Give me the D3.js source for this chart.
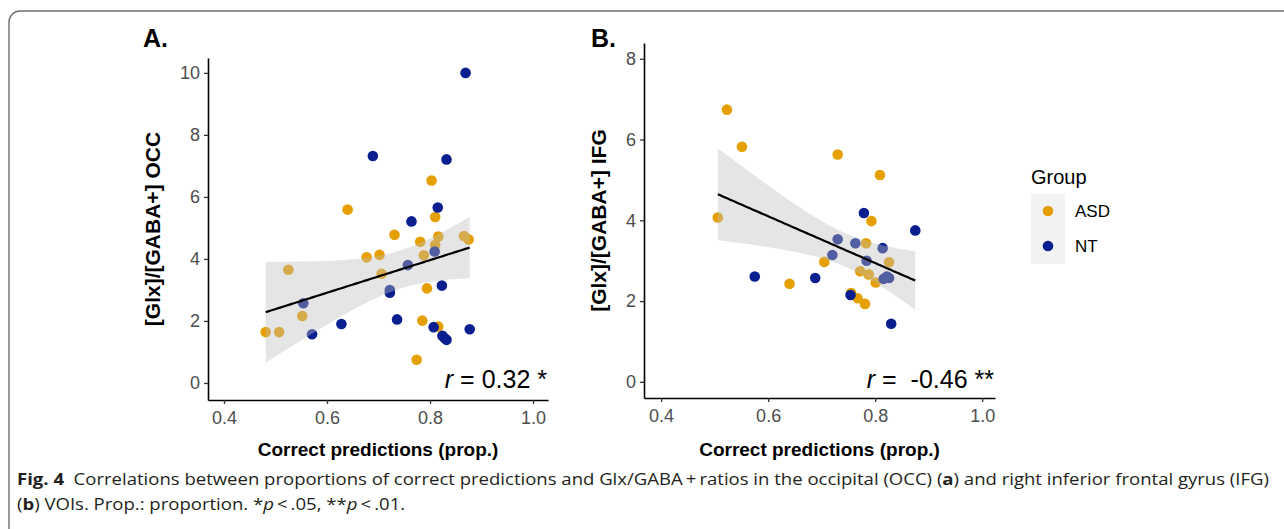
<!DOCTYPE html>
<html>
<head>
<meta charset="utf-8">
<script src="https://cdn.jsdelivr.net/npm/d3@7"></script>
<style>
  body { margin: 0; background: #fff; }
  svg { display: block; }
</style>
</head>
<body>
<div id="chart"></div>
<script>
// Groups and colours
const groups = ["ASD", "NT"];
const groupColors = ["#E69F00", "#0a1f8f"];

// Panel A: correct predictions vs [Glx]/[GABA+] OCC
const occAsd = [
  [0.803, 6.53], [0.640, 5.59], [0.810, 5.35], [0.731, 4.78], [0.781, 4.55],
  [0.816, 4.72], [0.810, 4.45], [0.866, 4.74], [0.875, 4.63], [0.788, 4.12],
  [0.677, 4.05], [0.702, 4.13], [0.525, 3.65], [0.706, 3.52], [0.794, 3.05],
  [0.552, 2.16], [0.785, 2.01], [0.816, 1.82], [0.481, 1.64], [0.507, 1.64],
  [0.774, 0.75]
];
const occNt = [
  [0.869, 10.0], [0.689, 7.32], [0.832, 7.21], [0.815, 5.66], [0.764, 5.21],
  [0.809, 4.24], [0.757, 3.80], [0.722, 3.00], [0.722, 2.91], [0.823, 3.14],
  [0.554, 2.57], [0.736, 2.05], [0.628, 1.90], [0.807, 1.80], [0.877, 1.73],
  [0.824, 1.52], [0.828, 1.45], [0.832, 1.39], [0.571, 1.57]
];

// Panel B: correct predictions vs [Glx]/[GABA+] IFG
const ifgAsd = [
  [0.523, 6.74], [0.551, 5.82], [0.730, 5.63], [0.809, 5.12], [0.793, 3.98],
  [0.506, 4.07], [0.783, 3.43], [0.826, 2.96], [0.705, 2.97], [0.772, 2.74],
  [0.788, 2.66], [0.801, 2.46], [0.640, 2.43], [0.755, 2.20], [0.767, 2.07],
  [0.781, 1.93]
];
const ifgNt = [
  [0.779, 4.18], [0.875, 3.75], [0.730, 3.53], [0.763, 3.43], [0.814, 3.31],
  [0.720, 3.14], [0.784, 3.00], [0.822, 2.61], [0.816, 2.55], [0.826, 2.57],
  [0.575, 2.61], [0.688, 2.57], [0.754, 2.15], [0.830, 1.44]
];

// Ticks and labels
const xTicks = [0.4, 0.6, 0.8, 1.0];
const occTicks = [0, 2, 4, 6, 8, 10];
const ifgTicks = [0, 2, 4, 6, 8];
const xTitle = "Correct predictions (prop.)";

const width = 1284, height = 529;

const svg = d3.select("#chart").append("svg")
    .attr("width", width)
    .attr("height", height);

// Outer figure frame
svg.append("rect")
    .attr("x", 9).attr("y", 11)
    .attr("width", 1300).attr("height", 560)
    .attr("rx", 11)
    .attr("fill", "none")
    .attr("stroke", "#6f6f6f")
    .attr("stroke-width", 1.4);

// Linear fit with 95% confidence band (like geom_smooth(method = "lm"))
function fitBand(points, tCrit) {
    const n = points.length;
    const mx = d3.mean(points, d => d[0]);
    const my = d3.mean(points, d => d[1]);
    const sxx = d3.sum(points, d => (d[0] - mx) ** 2);
    const b = d3.sum(points, d => (d[0] - mx) * (d[1] - my)) / sxx;
    const a = my - b * mx;
    const s = Math.sqrt(d3.sum(points, d => (d[1] - a - b * d[0]) ** 2) / (n - 2));
    const [x0, x1] = d3.extent(points, d => d[0]);
    return d3.range(81).map(i => {
        const x = x0 + (x1 - x0) * i / 80;
        const fit = a + b * x;
        const se = s * Math.sqrt(1 / n + (x - mx) ** 2 / sxx);
        return {x: x, fit: fit, lo: fit - tCrit * se, hi: fit + tCrit * se};
    });
}

function drawPanel(p) {
    const x = d3.scaleLinear().domain(p.xDomain).range(p.xRange);
    const y = d3.scaleLinear().domain(p.yDomain).range(p.yRange);
    const g = svg.append("g");

    // points
    p.series.forEach((pts, i) => {
        g.selectAll(null)
            .data(pts)
          .enter().append("circle")
            .attr("cx", d => x(d[0]))
            .attr("cy", d => y(d[1]))
            .attr("r", 5.3)
            .attr("fill", groupColors[i]);
    });

    // smoother on top of the points
    const band = fitBand(p.series[0].concat(p.series[1]), p.tCrit);
    g.append("path")
        .datum(band)
        .attr("fill", "#bdbdbd")
        .attr("fill-opacity", 0.4)
        .attr("d", d3.area().x(d => x(d.x)).y0(d => y(d.lo)).y1(d => y(d.hi)));
    g.append("path")
        .datum(band)
        .attr("fill", "none")
        .attr("stroke", "#000")
        .attr("stroke-width", 2.2)
        .attr("d", d3.line().x(d => x(d.x)).y(d => y(d.fit)));

    // axes
    const xAxis = g.append("g")
        .attr("transform", `translate(0,${p.yRange[0]})`)
        .call(d3.axisBottom(x).tickValues(xTicks).tickFormat(d3.format(".1f"))
            .tickSizeInner(4).tickSizeOuter(0).tickPadding(7));
    const yAxis = g.append("g")
        .attr("transform", `translate(${p.xRange[0]},0)`)
        .call(d3.axisLeft(y).tickValues(p.yTicks).tickFormat(d3.format("d"))
            .tickSizeInner(4).tickSizeOuter(0).tickPadding(4));
    [xAxis, yAxis].forEach(ax => {
        ax.select(".domain").attr("stroke", "#000").attr("stroke-width", 1.6);
        ax.selectAll(".tick line").attr("stroke", "#333").attr("stroke-width", 1.3);
        ax.selectAll(".tick text")
            .attr("fill", "#4d4d4d")
            .style("font-family", "'Liberation Sans', Arial, sans-serif")
            .style("font-size", "18px");
    });

    // axis titles
    g.append("text")
        .attr("x", (p.xRange[0] + p.xRange[1]) / 2)
        .attr("y", 456)
        .attr("text-anchor", "middle")
        .style("font-family", "'Liberation Sans', Arial, sans-serif")
        .style("font-size", "19px")
        .style("font-weight", "bold")
        .text(xTitle);
    g.append("text")
        .attr("transform", `translate(${p.yTitleX},${(p.yRange[0] + p.yRange[1]) / 2}) rotate(-90)`)
        .attr("text-anchor", "middle")
        .style("font-family", "'Liberation Sans', Arial, sans-serif")
        .style("font-size", "21px")
        .style("font-weight", "bold")
        .text(p.yTitle);

    // panel tag
    g.append("text")
        .attr("x", p.tagX).attr("y", 47)
        .style("font-family", "'Liberation Sans', Arial, sans-serif")
        .style("font-size", "25px")
        .style("font-weight", "bold")
        .text(p.tag);

    // correlation annotation
    const r = g.append("text")
        .attr("x", p.xRange[1] - 1).attr("y", 388)
        .attr("text-anchor", "end")
        .style("font-family", "'Liberation Sans', Arial, sans-serif")
        .style("font-size", "25px");
    r.append("tspan").style("font-style", "italic").text("r");
    r.append("tspan").attr("xml:space", "preserve").text(p.rText);
}

drawPanel({
    tag: "A.", tagX: 143,
    series: [occAsd, occNt], tCrit: 2.024,
    xDomain: [0.369, 1.029], xRange: [208, 548],
    yDomain: [-0.55, 10.48], yRange: [400, 58],
    yTicks: occTicks, yTitle: "[Glx]/[GABA+] OCC", yTitleX: 160,
    rText: " = 0.32 *"
});
drawPanel({
    tag: "B.", tagX: 591,
    series: [ifgAsd, ifgNt], tCrit: 2.048,
    xDomain: [0.368, 1.024], xRange: [644, 995],
    yDomain: [-0.40, 8.39], yRange: [398, 43],
    yTicks: ifgTicks, yTitle: "[Glx]/[GABA+] IFG", yTitleX: 606,
    rText: " =  -0.46 **"
});

// Legend
const legend = svg.append("g").attr("transform", "translate(1031,0)");
legend.append("text")
    .attr("x", 0).attr("y", 184)
    .style("font-family", "'Liberation Sans', Arial, sans-serif")
    .style("font-size", "20px")
    .text("Group");
legend.selectAll("rect.key")
    .data(groups)
  .enter().append("rect")
    .attr("class", "key")
    .attr("x", 0).attr("y", (d, i) => 194 + i * 35)
    .attr("width", 34).attr("height", 35)
    .attr("fill", "#f2f2f2");
legend.selectAll("circle")
    .data(groups)
  .enter().append("circle")
    .attr("cx", 17).attr("cy", (d, i) => 211 + i * 35)
    .attr("r", 5.3)
    .attr("fill", (d, i) => groupColors[i]);
legend.selectAll("text.lab")
    .data(groups)
  .enter().append("text")
    .attr("class", "lab")
    .attr("x", 44).attr("y", (d, i) => 217 + i * 35)
    .style("font-family", "'Liberation Sans', Arial, sans-serif")
    .style("font-size", "17px")
    .text(d => d);

// Caption
const cap = svg.append("g")
    .style("font-family", "'Open Sans', 'Noto Sans', sans-serif")
    .style("font-size", "16px")
    .attr("fill", "#231f20");

const line1 = cap.append("text").attr("x", 17).attr("y", 485).attr("xml:space", "preserve");
line1.append("tspan").style("font-weight", "bold").text("Fig. 4");
line1.append("tspan").text("  Correlations between proportions of correct predictions and Glx/GABA\u2009+\u2009ratios in the occipital (OCC) (");
line1.append("tspan").style("font-weight", "bold").text("a");
line1.append("tspan").text(") and right inferior frontal gyrus (IFG)");

const line2 = cap.append("text").attr("x", 17).attr("y", 510).attr("xml:space", "preserve");
line2.append("tspan").text("(");
line2.append("tspan").style("font-weight", "bold").text("b");
line2.append("tspan").text(") VOIs. Prop.: proportion. *");
line2.append("tspan").style("font-style", "italic").text("p");
line2.append("tspan").text("\u2009<\u2009.05, **");
line2.append("tspan").style("font-style", "italic").text("p");
line2.append("tspan").text("\u2009<\u2009.01.");

// squeeze the caption to the width of the original (narrow typeface)
const ratio = (1269 - 17) / line1.node().getComputedTextLength();
[line1, line2].forEach(t => {
    const w = t.node().getComputedTextLength();
    t.attr("textLength", w * ratio).attr("lengthAdjust", "spacingAndGlyphs");
});
</script>
</body>
</html>
